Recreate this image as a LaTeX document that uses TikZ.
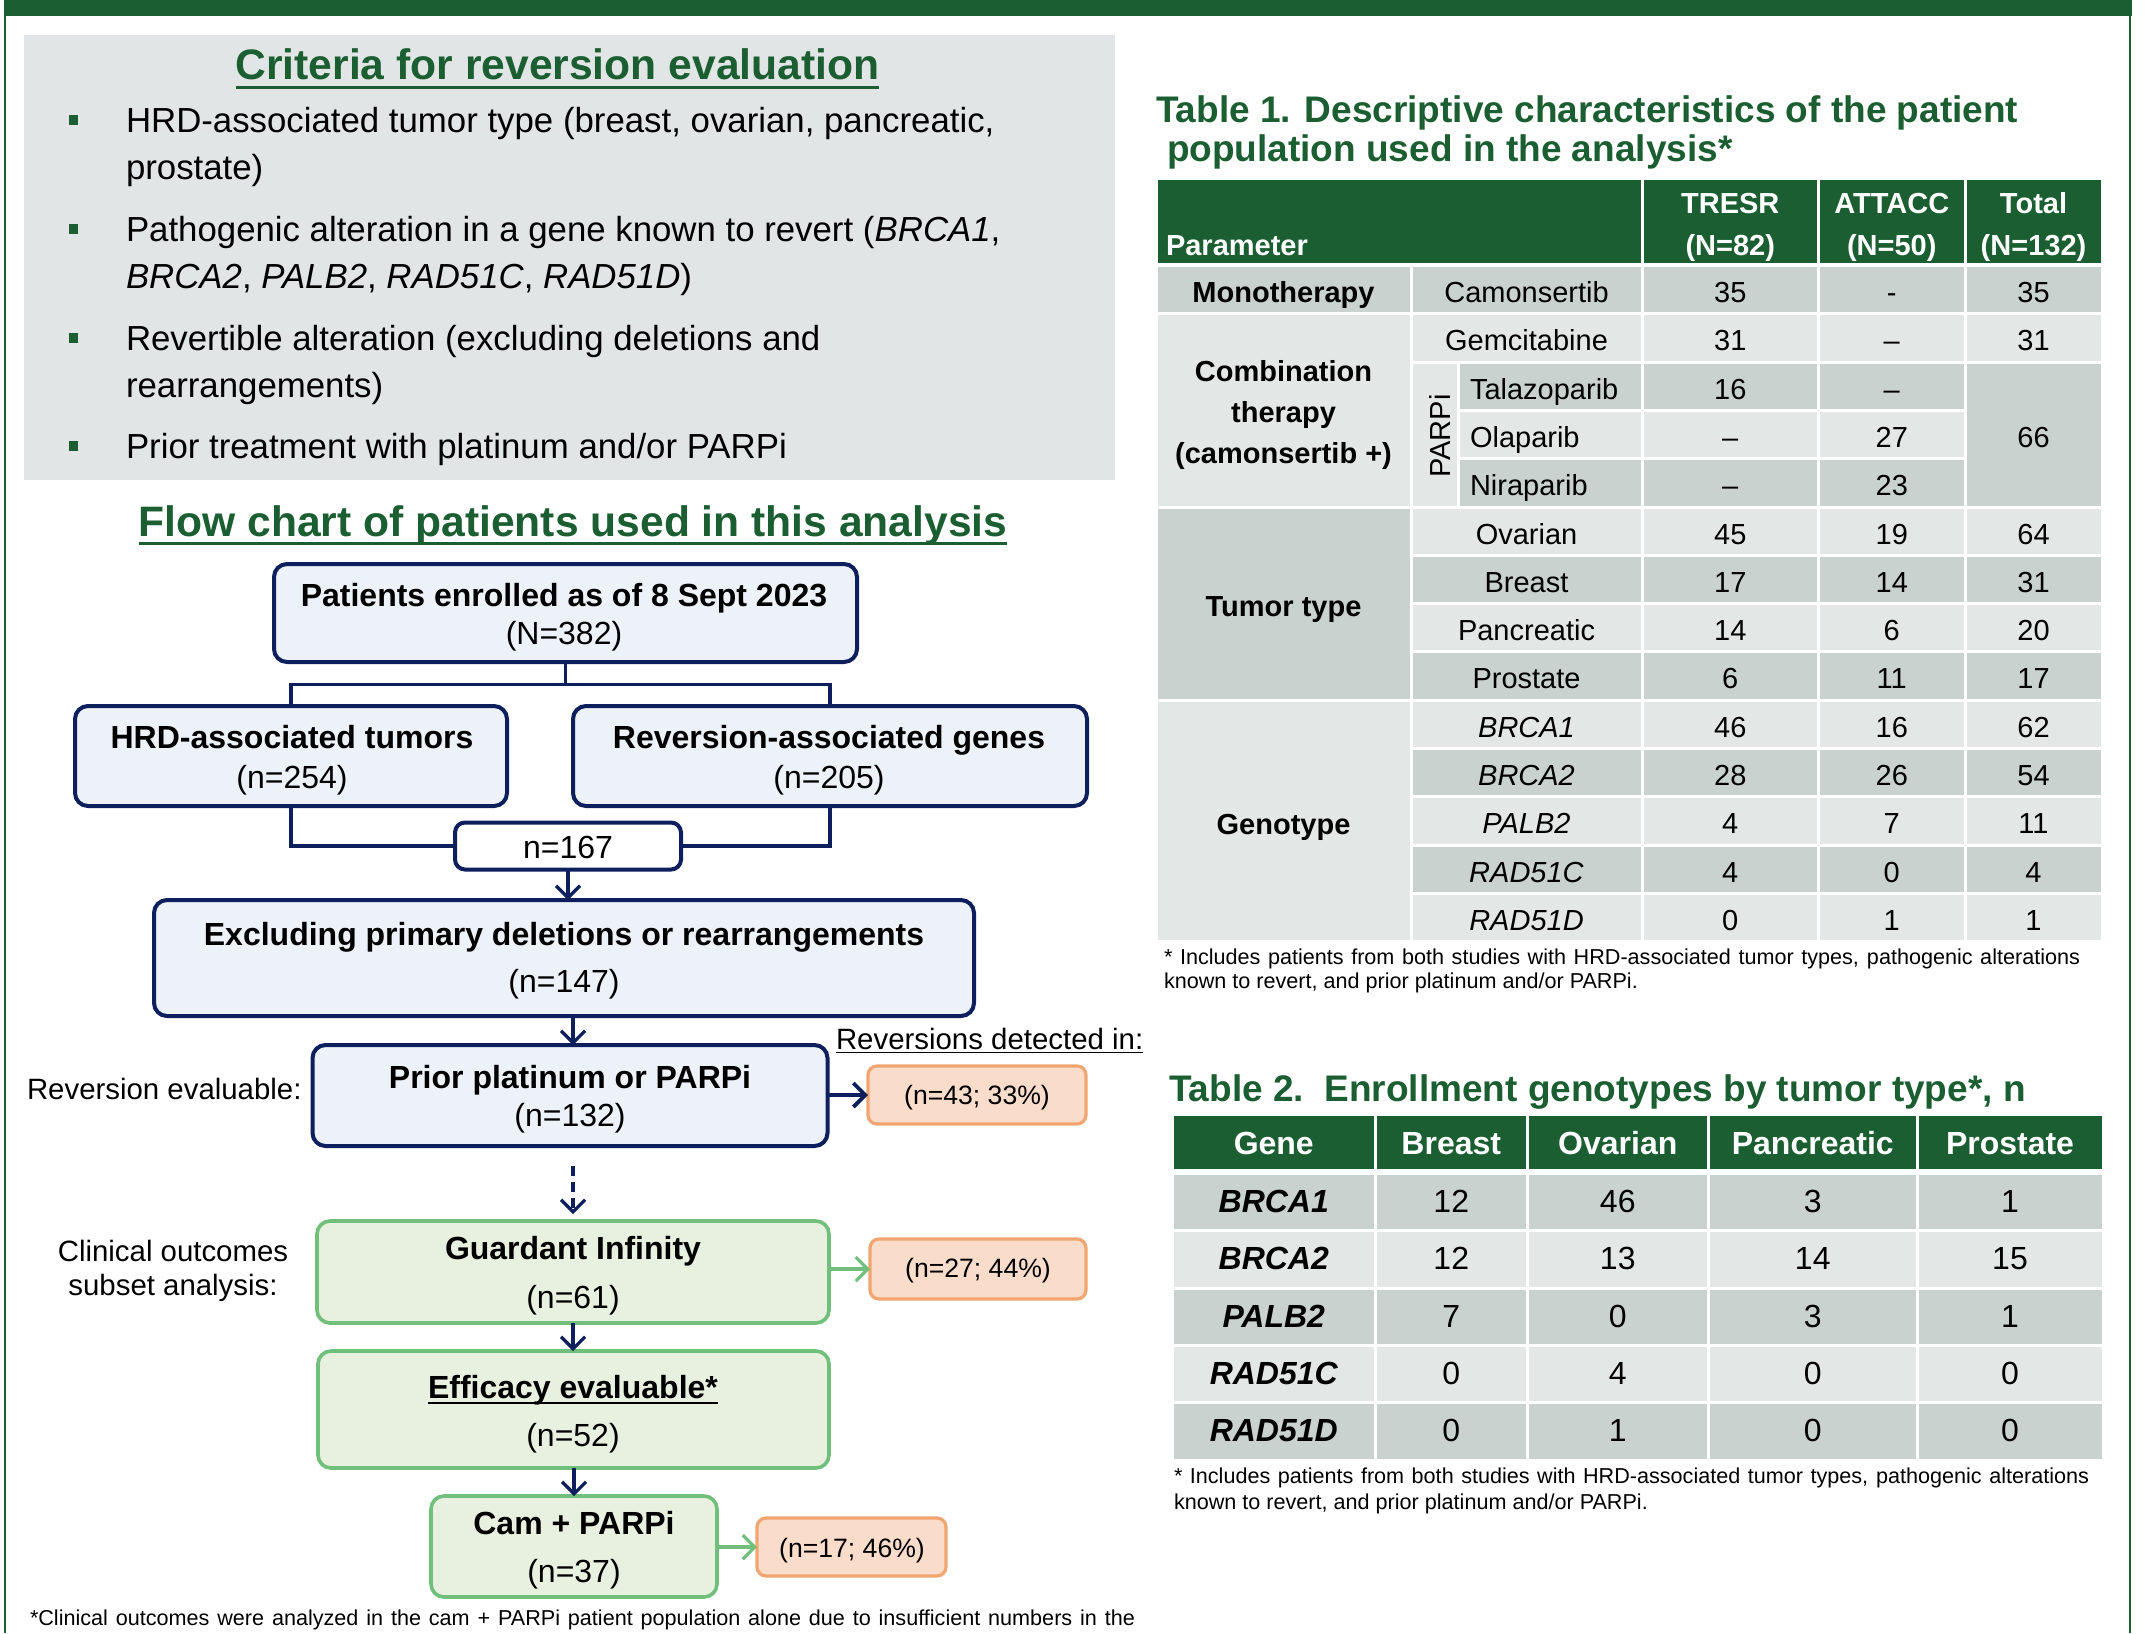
\documentclass[tikz,border=0pt]{standalone}
\usepackage{fontspec}
\setmainfont{Liberation Sans}
\usetikzlibrary{arrows.meta}
\definecolor{dgreen}{HTML}{1B5E31}
\definecolor{panelgrey}{HTML}{E2E5E5}
\definecolor{navy}{HTML}{0E1F5E}
\definecolor{bluefill}{HTML}{EDF2F8}
\definecolor{gfill}{HTML}{E8F1DF}
\definecolor{gline}{HTML}{70BF7B}
\definecolor{ofill}{HTML}{F9DCCA}
\definecolor{oline}{HTML}{F2A570}
\definecolor{tdark}{HTML}{C9D2CF}
\definecolor{tlight}{HTML}{E3E7E6}
\newcommand\szTitle{\fontsize{21.3pt}{25pt}\selectfont}
\newcommand\szCrit{\fontsize{17.4pt}{21pt}\selectfont}
\newcommand\szFlow{\fontsize{16pt}{19.2pt}\selectfont}
\newcommand\szLab{\fontsize{14.7pt}{17.6pt}\selectfont}
\newcommand\szOr{\fontsize{13.3pt}{16pt}\selectfont}
\newcommand\szTa{\fontsize{14.5pt}{17.4pt}\selectfont}
\newcommand\szTb{\fontsize{16pt}{19.2pt}\selectfont}
\newcommand\szTT{\fontsize{18.5pt}{22pt}\selectfont}
\newcommand\szFoot{\fontsize{10.8pt}{12.4pt}\selectfont}
\begin{document}
\begin{tikzpicture}[x=0.5pt,y=-0.5pt,
  txt/.style={inner sep=0pt, outer sep=0pt, anchor=base},
  txtw/.style={inner sep=0pt, outer sep=0pt, anchor=base west},
  bbox/.style={draw=navy, fill=bluefill, line width=2pt, rounded corners=6.5pt, inner sep=0pt, outer sep=0pt},
  wbox/.style={draw=navy, fill=white, line width=2pt, rounded corners=5pt, inner sep=0pt, outer sep=0pt},
  gbox/.style={draw=gline, fill=gfill, line width=1.8pt, rounded corners=6.5pt, inner sep=0pt, outer sep=0pt},
  obox/.style={draw=oline, fill=ofill, line width=1.6pt, rounded corners=4.5pt, inner sep=0pt, outer sep=0pt},
  conn/.style={draw=navy, line width=1.6pt},
  arr/.style={conn, -{Straight Barb[length=6pt,width=12pt]}},
  garr/.style={draw=gline, line width=1.6pt, -{Straight Barb[length=6pt,width=12pt]}},
  cell/.style={draw=white, line width=1.5pt},
]
\useasboundingbox (0,0) rectangle (2150,1633);
% frame
\fill[dgreen] (4,0) rectangle (2132,16);
\draw[dgreen, line width=0.8pt] (4.8,0) -- (4.8,1633);
\draw[dgreen, line width=0.8pt] (2130.2,0) -- (2130.2,1633);

% ---------------- criteria panel ----------------
\fill[panelgrey] (24,35) rectangle (1115,480);
\node[txt, text=dgreen, font=\szTitle\bfseries] (crittitle) at (557.5,79) {Criteria for reversion evaluation};
\draw[dgreen, line width=1.7pt] ([yshift=-4.2pt]crittitle.base west) -- ([yshift=-4.2pt]crittitle.base east);
\foreach \yy in {132,241,350,458}{\fill[dgreen] (69,\yy-17) rectangle (78,\yy-7);}
\node[txtw, font=\szCrit] (c1) at (126,132) {HRD-associated tumor type (breast, ovarian, pancreatic,};
\node[txtw, font=\szCrit] (c2) at (126,179) {prostate)};
\node[txtw, font=\szCrit] (c3) at (126,241) {Pathogenic alteration in a gene known to revert (\textit{BRCA1},};
\node[txtw, font=\szCrit] (c4) at (126,288) {\textit{BRCA2}, \textit{PALB2}, \textit{RAD51C}, \textit{RAD51D})};
\node[txtw, font=\szCrit] (c5) at (126,350) {Revertible alteration (excluding deletions and};
\node[txtw, font=\szCrit] (c6) at (126,397) {rearrangements)};
\node[txtw, font=\szCrit] (c7) at (126,458) {Prior treatment with platinum and/or PARPi};

% ---------------- flow chart ----------------
\node[txt, text=dgreen, font=\szTitle\bfseries] (flowtitle) at (573,536) {Flow chart of patients used in this analysis};
\draw[dgreen, line width=1.7pt] ([yshift=-3.8pt]flowtitle.base west) -- ([yshift=-3.8pt]flowtitle.base east);

\node[bbox, minimum width=291.5pt, minimum height=49pt] (b1) at (565.5,613) {};
\node[bbox, minimum width=216pt, minimum height=50pt] (hrd) at (291,756) {};
\node[bbox, minimum width=257pt, minimum height=50pt] (rev) at (830,756) {};
\node[wbox, minimum width=113pt, minimum height=23.5pt] (n167) at (568,846) {};
\node[bbox, minimum width=410pt, minimum height=58pt] (excl) at (564,958) {};
\node[bbox, minimum width=257.5pt, minimum height=50.5pt] (prior) at (570,1095.5) {};
\node[obox, minimum width=109pt, minimum height=29pt] (o1) at (977,1095) {};
\node[gbox, minimum width=256pt, minimum height=51pt] (guard) at (573,1272) {};
\node[obox, minimum width=108pt, minimum height=30pt] (o2) at (978,1269) {};
\node[gbox, minimum width=255.5pt, minimum height=58.5pt] (eff) at (573.5,1409.5) {};
\node[gbox, minimum width=143pt, minimum height=50.5pt] (cam) at (574,1546.5) {};
\node[obox, minimum width=94.5pt, minimum height=29pt] (o3) at (851.5,1547) {};

% connectors
\coordinate (split) at (565.5,684.5);
\draw[conn] (b1.south) -- (split);
\draw[conn] (hrd.north) |- (split) -| (rev.north);
\draw[conn] (hrd.south) |- (n167.west);
\draw[conn] (rev.south) |- (n167.east);
\draw[arr] (n167.south) -- (n167.south |- excl.north);
\draw[arr] (excl.south -| guard.north) -- (prior.north -| guard.north);
\coordinate (dstart) at (573,1166);
\draw[arr, dash pattern=on 5pt off 3pt] (dstart) -- ([yshift=3.5pt]guard.north);
\draw[arr] (guard.south) -- (eff.north -| guard.south);
\draw[arr] (eff.south -| cam.north) -- (cam.north);
\draw[arr, line width=1.9pt] (prior.east |- o1.west) -- (o1.west);
\draw[garr] (guard.east |- o2.west) -- (o2.west);
\draw[garr] (cam.east |- o3.west) -- (o3.west);

% flow texts
\node[txt, font=\szFlow\bfseries] (b1a) at (564,606.5) {Patients enrolled as of 8 Sept 2023};
\node[txt, font=\szFlow] (b1b) at (564,644.5) {(N=382)};
\node[txt, font=\szFlow\bfseries] (hrda) at (292,748.5) {HRD-associated tumors};
\node[txt, font=\szFlow] (hrdb) at (292,788) {(n=254)};
\node[txt, font=\szFlow\bfseries] (reva) at (829,748.5) {Reversion-associated genes};
\node[txt, font=\szFlow] (revb) at (829,788) {(n=205)};
\node[txt, font=\szFlow] (n167t) at (568,858) {n=167};
\node[txt, font=\szFlow\bfseries] (excla) at (564,945.5) {Excluding primary deletions or rearrangements};
\node[txt, font=\szFlow] (exclb) at (564,992) {(n=147)};
\node[txt, font=\szFlow\bfseries] (priora) at (570,1088) {Prior platinum or PARPi};
\node[txt, font=\szFlow] (priorb) at (570,1126.5) {(n=132)};
\node[txt, font=\szFlow\bfseries] (guarda) at (573,1259.5) {Guardant Infinity};
\node[txt, font=\szFlow] (guardb) at (573,1308.8) {(n=61)};
\node[txt, font=\szFlow\bfseries] (effa) at (573,1398.5) {Efficacy evaluable*};
\draw[black, line width=1pt] ([yshift=-2pt]effa.base west) -- ([yshift=-2pt]effa.base east);
\node[txt, font=\szFlow] (effb) at (573,1446) {(n=52)};
\node[txt, font=\szFlow\bfseries] (cama) at (574,1534.5) {Cam + PARPi};
\node[txt, font=\szFlow] (camb) at (574,1582) {(n=37)};
\node[txt, font=\szOr] (o1t) at (977,1104) {(n=43; 33\%)};
\node[txt, font=\szOr] (o2t) at (978,1277.7) {(n=27; 44\%)};
\node[txt, font=\szOr] (o3t) at (852,1557) {(n=17; 46\%)};
\node[txtw, font=\szLab] (revl) at (27,1099.5) {Reversion evaluable:};
\node[txt, font=\szLab] (clin1) at (173,1261) {Clinical outcomes};
\node[txt, font=\szLab] (clin2) at (173,1295.5) {subset analysis:};
\node[txtw, font=\szLab] (detl) at (836,1049) {Reversions detected in:};
\draw[black, line width=0.75pt] ([yshift=-1.8pt]detl.base west) -- ([yshift=-1.8pt]detl.base east);
\node[txtw, font=\szFoot] (foot0) at (30,1625.7) {\makebox[552.5pt][s]{*Clinical outcomes were analyzed in the cam + PARPi patient population alone due to insufficient numbers in the}};

% ---------------- Table 1 ----------------
\node[txtw, text=dgreen, font=\szTT\bfseries] (t1title1) at (1156,122) {Table 1. Descriptive characteristics of the patient};
\node[txtw, text=dgreen, font=\szTT\bfseries] (t1title2) at (1167,161) {population used in the analysis*};
\path[cell, fill=dgreen] (1156,178) rectangle (1642,264);
\path[cell, fill=dgreen] (1642,178) rectangle (1818.5,264);
\path[cell, fill=dgreen] (1818.5,178) rectangle (1965,264);
\path[cell, fill=dgreen] (1965,178) rectangle (2102,264);
\node[txtw, text=white, font=\szTa\bfseries] (h1) at (1166,255) {Parameter};
\node[txt, text=white, font=\szTa\bfseries] (h2a) at (1730.25,213.5) {TRESR};
\node[txt, text=white, font=\szTa\bfseries] (h2b) at (1730.25,255) {(N=82)};
\node[txt, text=white, font=\szTa\bfseries] (h3a) at (1891.75,213.5) {ATTACC};
\node[txt, text=white, font=\szTa\bfseries] (h3b) at (1891.75,255) {(N=50)};
\node[txt, text=white, font=\szTa\bfseries] (h4a) at (2033.5,213.5) {Total};
\node[txt, text=white, font=\szTa\bfseries] (h4b) at (2033.5,255) {(N=132)};
% body cells
\foreach \i/\cc in {0/tdark,1/tlight,2/tdark,3/tlight,4/tdark,5/tlight,6/tdark,7/tlight,8/tdark,9/tlight,10/tdark,11/tlight,12/tdark,13/tlight}{
  \pgfmathsetmacro\ya{265.5+48.3*\i}
  \pgfmathsetmacro\yb{265.5+48.3*(\i+1)}
  \path[cell, fill=\cc] (1642,\ya) rectangle (1818.5,\yb);
  \path[cell, fill=\cc] (1818.5,\ya) rectangle (1965,\yb);
  \ifnum\i>1 \ifnum\i<5
    \path[cell, fill=\cc] (1458.5,\ya) rectangle (1642,\yb);
  \else
    \path[cell, fill=\cc] (1965,\ya) rectangle (2102,\yb);
    \path[cell, fill=\cc] (1411,\ya) rectangle (1642,\yb);
  \fi\else
    \path[cell, fill=\cc] (1965,\ya) rectangle (2102,\yb);
    \path[cell, fill=\cc] (1411,\ya) rectangle (1642,\yb);
  \fi
}
\path[cell, fill=tlight] (1411,362.1) rectangle (1458.5,507);
\path[cell, fill=tdark] (1965,362.1) rectangle (2102,507);
\path[cell, fill=tdark] (1156,265.5) rectangle (1411,313.8);
\path[cell, fill=tlight] (1156,313.8) rectangle (1411,507);
\path[cell, fill=tdark] (1156,507) rectangle (1411,700.2);
\path[cell, fill=tlight] (1156,700.2) rectangle (1411,941.7);
% body text
\node[txt, font=\szTa\bfseries] (g1) at (1283.5,302.5) {Monotherapy};
\node[txt, font=\szTa\bfseries] (g2a) at (1283.5,381.5) {Combination};
\node[txt, font=\szTa\bfseries] (g2b) at (1283.5,422.5) {therapy};
\node[txt, font=\szTa\bfseries] (g2c) at (1283.5,463.5) {(camonsertib +)};
\node[txt, font=\szTa\bfseries] (g3) at (1283.5,616.5) {Tumor type};
\node[txt, font=\szTa\bfseries] (g4) at (1283.5,834) {Genotype};
\node[inner sep=0pt, rotate=90, font=\szTa] (parpi) at (1440,436) {PARPi};
\node[txt, font=\szTa] (tot66) at (2033.5,447) {66};
\foreach \i/\lab/\va/\vb/\vc in {0/Camonsertib/35/-/35, 1/Gemcitabine/31/\textendash/31, 5/Ovarian/45/19/64, 6/Breast/17/14/31, 7/Pancreatic/14/6/20, 8/Prostate/6/11/17, 9/\textit{BRCA1}/46/16/62, 10/\textit{BRCA2}/28/26/54, 11/\textit{PALB2}/4/7/11, 12/\textit{RAD51C}/4/0/4, 13/\textit{RAD51D}/0/1/1}{
  \pgfmathsetmacro\yy{302.5+48.3*\i}
  \node[txt, font=\szTa] (t1l\i) at (1526.5,\yy) {\lab};
  \node[txt, font=\szTa] (t1a\i) at (1730.25,\yy) {\va};
  \node[txt, font=\szTa] (t1b\i) at (1891.75,\yy) {\vb};
  \node[txt, font=\szTa] (t1c\i) at (2033.5,\yy) {\vc};
}
\foreach \i/\lab/\va/\vb in {2/Talazoparib/16/\textendash, 3/Olaparib/\textendash/27, 4/Niraparib/\textendash/23}{
  \pgfmathsetmacro\yy{302.5+48.3*\i}
  \node[txtw, font=\szTa] (t1l\i) at (1470,\yy) {\lab};
  \node[txt, font=\szTa] (t1a\i) at (1730.25,\yy) {\va};
  \node[txt, font=\szTa] (t1b\i) at (1891.75,\yy) {\vb};
}
\node[txtw, font=\szFoot] (foot1a) at (1164,964.5) {\makebox[458pt][s]{* Includes patients from both studies with HRD-associated tumor types, pathogenic alterations}};
\node[txtw, font=\szFoot] (foot1b) at (1164,988.5) {known to revert, and prior platinum and/or PARPi.};

% ---------------- Table 2 ----------------
\node[txtw, text=dgreen, font=\szTT\bfseries] (t2title) at (1169,1101) {Table 2.\ \ Enrollment genotypes by tumor type*, n};
\foreach \xa/\xb/\h/\nm in {1172/1375.5/Gene/hg, 1375.5/1527/Breast/hb, 1527/1708.5/Ovarian/ho, 1708.5/1917/Pancreatic/hp, 1917/2103/Prostate/hq}{
  \path[cell, fill=dgreen] (\xa,1114) rectangle (\xb,1170);
  \node[txt, text=white, font=\szTb\bfseries] (\nm) at ({(\xa+\xb)/2},1154.5) {\h};
}
\foreach \i/\g/\a/\b/\c/\d/\cc in {0/BRCA1/12/46/3/1/tdark, 1/BRCA2/12/13/14/15/tlight, 2/PALB2/7/0/3/1/tdark, 3/RAD51C/0/4/0/0/tlight, 4/RAD51D/0/1/0/0/tdark}{
  \pgfmathsetmacro\ya{1173.5+57.3*\i}
  \pgfmathsetmacro\yb{1173.5+57.3*(\i+1)}
  \pgfmathsetmacro\yy{1212.5+57.3*\i}
  \path[cell, fill=\cc] (1172,\ya) rectangle (1375.5,\yb);
  \path[cell, fill=\cc] (1375.5,\ya) rectangle (1527,\yb);
  \path[cell, fill=\cc] (1527,\ya) rectangle (1708.5,\yb);
  \path[cell, fill=\cc] (1708.5,\ya) rectangle (1917,\yb);
  \path[cell, fill=\cc] (1917,\ya) rectangle (2103,\yb);
  \node[txt, font=\szTb\bfseries\itshape] (t2g\i) at (1273.75,\yy) {\g};
  \node[txt, font=\szTb] (t2a\i) at (1451.25,\yy) {\a};
  \node[txt, font=\szTb] (t2b\i) at (1617.75,\yy) {\b};
  \node[txt, font=\szTb] (t2c\i) at (1812.75,\yy) {\c};
  \node[txt, font=\szTb] (t2d\i) at (2010,\yy) {\d};
}
\node[txtw, font=\szFoot] (foot2a) at (1174,1483.5) {\makebox[457.5pt][s]{* Includes patients from both studies with HRD-associated tumor types, pathogenic alterations}};
\node[txtw, font=\szFoot] (foot2b) at (1174,1509.3) {known to revert, and prior platinum and/or PARPi.};
\end{tikzpicture}
\end{document}
